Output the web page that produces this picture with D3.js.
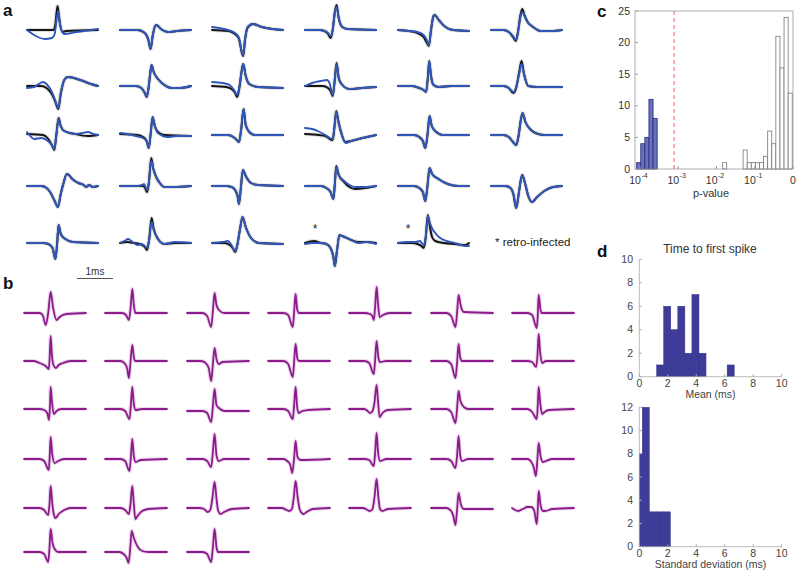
<!DOCTYPE html>
<html><head><meta charset="utf-8">
<script src="https://cdn.jsdelivr.net/npm/d3@7"></script>
<style>body{margin:0;background:#fff} svg{display:block;font-family:"Liberation Sans",Arial,Helvetica,sans-serif}</style>
</head><body><svg id="c" width="800" height="574"></svg>
<script>
// ---------------- DATA ----------------
// Panel a: mean waveforms (time in ms, amplitude in a.u.), black = before, blue = after
const waveA_black = [
 [[0,0],[0.75,0],[0.8,6],[0.86,24],[0.92,8],[1.0,-2],[1.1,-1],[2,0]],
 [[0,0],[0.5,0],[0.7,-3],[0.8,-10],[0.86,-19],[0.92,-6],[0.99,4],[1.03,5],[1.15,1],[1.35,-2],[1.6,-1],[2,0]],
 [[0,0],[0.45,-1],[0.6,-3],[0.75,-8],[0.85,-24],[0.88,-26],[0.93,-10],[1.0,2],[1.15,6],[1.4,3],[1.7,1],[2,0]],
 [[0,0],[0.4,0],[0.55,-1],[0.65,-4],[0.72,-8],[0.78,0],[0.84,18],[0.89,25],[0.95,12],[1.05,3],[1.2,1],[2,0]],
 [[0,0],[0.3,-1],[0.55,-3],[0.72,-7],[0.8,-12],[0.87,-16],[0.93,0],[1.0,14],[1.03,15],[1.15,10],[1.3,4],[1.55,0],[2,-1]],
 [[0,0],[0.35,0],[0.5,-2],[0.62,-7],[0.7,-11],[0.76,-2],[0.83,15],[0.88,21],[0.95,14],[1.05,7],[1.15,4],[1.4,-1],[1.7,-1],[2,0]],
 [[0,0],[0.4,0],[0.55,-2],[0.7,-8],[0.8,-16],[0.88,-23],[0.95,-8],[1.05,6],[1.15,9],[1.5,6],[1.8,2],[2,0]],
 [[0,0],[0.45,0],[0.6,-2],[0.7,-7],[0.75,-11],[0.8,-3],[0.86,15],[0.89,21],[0.95,14],[1.07,7],[1.25,1],[1.45,-2],[1.7,-2],[2,0]],
 [[0,0],[0.4,-1],[0.55,-3],[0.65,-7],[0.71,-11],[0.77,-2],[0.84,16],[0.88,22],[0.95,10],[1.05,2],[1.3,-1],[2,-2]],
 [[0,0],[0.5,0],[0.65,-2],[0.72,-5],[0.78,-10],[0.83,3],[0.89,23],[0.95,8],[1.03,2],[1.25,-3],[1.6,-2],[2,-1]],
 [[0,0],[0.4,0],[0.6,-2],[0.72,-4],[0.79,-6],[0.84,8],[0.88,25],[0.93,10],[1.0,1],[1.15,-1],[1.5,0],[2,0]],
 [[0,0],[0.35,0],[0.5,-2],[0.63,-7],[0.7,-3],[0.8,15],[0.86,25],[0.93,12],[1.05,0],[1.3,-1],[2,-1]],
 [[0,1],[0.45,0],[0.6,-4],[0.7,-10],[0.77,-15],[0.82,-2],[0.89,17],[0.95,9],[1.05,4],[1.35,1],[1.72,-1],[2,0]],
 [[0,1],[0.5,0],[0.65,-2],[0.75,-6],[0.81,-13],[0.86,0],[0.92,18],[0.98,9],[1.07,3],[1.25,0],[2,-1]],
 [[0,0],[0.45,0],[0.6,-2],[0.7,-5],[0.76,-7],[0.82,5],[0.89,26],[0.95,10],[1.05,3],[1.2,0],[2,0]],
 [[0,1],[0.4,0],[0.57,-1],[0.7,-4],[0.78,-5],[0.83,8],[0.88,24],[0.95,12],[1.04,0],[1.13,-7],[1.3,-6],[1.62,-3],[2,0]],
 [[0,0],[0.45,0],[0.6,-2],[0.7,-6],[0.77,-13],[0.83,0],[0.89,19],[0.95,9],[1.08,3],[1.25,0],[2,0]],
 [[0,0],[0.35,0],[0.5,-2],[0.62,-7],[0.71,-10],[0.78,0],[0.84,15],[0.89,22],[0.97,13],[1.1,6],[1.25,2],[1.5,0],[2,0]],
 [[0,0],[0.4,0],[0.55,-2],[0.65,-6],[0.78,-15],[0.87,-21],[0.95,-8],[1.03,3],[1.12,12],[1.18,11],[1.25,8],[1.35,5],[1.45,3],[1.6,1],[1.66,-1],[1.75,1],[1.85,-1],[2,0]],
 [[0,0],[0.5,0],[0.65,0],[0.72,-3],[0.76,-6],[0.81,2],[0.88,28],[0.94,17],[1.02,9],[1.12,3],[1.25,-1],[1.5,-1],[2,0]],
 [[0,0],[0.4,0],[0.55,-1],[0.65,-4],[0.72,-10],[0.76,-18],[0.81,-3],[0.87,16],[0.95,10],[1.1,3],[1.3,1],[2,0]],
 [[0,0],[0.45,0],[0.6,-2],[0.72,-6],[0.8,-13],[0.84,2],[0.88,20],[0.95,11],[1.1,4],[1.25,-1],[1.41,-3],[1.7,-2],[2,0]],
 [[0,0],[0.45,0],[0.6,-2],[0.7,-6],[0.77,-15],[0.83,0],[0.89,18],[0.96,12],[1.14,7],[1.4,2],[1.7,0],[2,0]],
 [[0,0],[0.4,0],[0.55,-2],[0.63,-8],[0.71,-22],[0.78,-8],[0.84,6],[0.88,11],[0.95,4],[1.05,-10],[1.15,-16],[1.3,-11],[1.5,-5],[1.75,-1],[2,0]],
 [[0,0],[0.45,0],[0.6,-1],[0.72,-5],[0.8,-16],[0.85,0],[0.89,18],[0.95,9],[1.08,4],[1.3,1],[2,0]],
 [[0,0],[0.2,1],[0.4,0],[0.55,-1],[0.7,-4],[0.76,-7],[0.82,3],[0.89,25],[0.95,14],[1.07,4],[1.25,-1],[1.55,0],[2,0]],
 [[0,0],[0.35,0],[0.5,-2],[0.6,-6],[0.65,-9],[0.7,-4],[0.78,12],[0.86,26],[0.95,16],[1.1,5],[1.32,0],[2,-1]],
 [[0,0],[0.25,2],[0.45,0],[0.6,-1],[0.72,-5],[0.8,-14],[0.84,-23],[0.9,-8],[0.97,8],[1.05,7],[1.3,3],[1.5,1],[1.73,1],[2,0]],
 [[0,0],[0.4,0],[0.55,-1],[0.66,-3],[0.72,-5],[0.78,5],[0.84,28],[0.9,16],[0.96,6],[1.05,2],[1.3,0],[1.6,-1],[1.9,-2],[2,0]]
];
// null = identical to the black trace
const waveA_blue = [
 [[0,0],[0.2,-5],[0.5,-9],[0.7,-8],[0.78,-4],[0.84,12],[0.88,19],[0.94,4],[1.05,-4],[1.4,-2],[2,1]],
 null,
 [[0,3],[0.2,2],[0.45,0],[0.6,-2],[0.75,-7],[0.85,-23],[0.88,-25],[0.93,-9],[1.0,3],[1.15,6],[1.4,3],[1.7,1],[2,0]],
 [[0,0],[0.4,0],[0.55,-1],[0.65,-3],[0.72,-6],[0.78,0],[0.84,17],[0.89,23],[0.95,12],[1.05,3],[1.2,1],[2,0]],
 [[0,0],[0.3,-1],[0.55,-2],[0.72,-5],[0.8,-9],[0.87,-15],[0.93,0],[1.0,14],[1.03,15],[1.15,10],[1.3,4],[1.55,0],[2,-1]],
 [[0,0],[0.35,0],[0.5,-2],[0.62,-6],[0.7,-10],[0.76,-2],[0.83,13],[0.88,18],[0.95,14],[1.05,7],[1.15,4],[1.4,-1],[1.7,-1],[2,0]],
 [[0,-2],[0.2,-1],[0.45,4],[0.55,2],[0.7,-6],[0.8,-15],[0.88,-22],[0.95,-7],[1.05,6],[1.15,9],[1.5,6],[1.8,2],[2,0]],
 null,
 [[0,4],[0.3,3],[0.5,1],[0.62,-4],[0.71,-9],[0.77,-1],[0.84,16],[0.88,22],[0.95,10],[1.05,2],[1.3,-1],[2,-2]],
 [[0,0],[0.2,3],[0.45,5],[0.62,6],[0.7,2],[0.78,-9],[0.83,3],[0.89,22],[0.95,8],[1.03,2],[1.25,-3],[1.6,-2],[2,-1]],
 null,
 [[0,0],[0.35,0],[0.5,-2],[0.63,-6],[0.7,-2],[0.8,13],[0.86,22],[0.93,12],[1.05,0],[1.3,-1],[2,-1]],
 [[0,3],[0.12,-2],[0.2,-4],[0.4,-3],[0.55,-5],[0.7,-10],[0.77,-14],[0.82,-2],[0.89,16],[0.95,9],[1.05,4],[1.35,1],[1.55,2],[1.72,3],[1.87,1],[2,0]],
 [[0,2],[0.2,1],[0.45,-1],[0.65,-3],[0.75,-6],[0.81,-13],[0.86,0],[0.92,18],[0.98,9],[1.07,2],[1.34,-2],[1.6,-1],[2,-1]],
 null,
 [[0,7],[0.2,6],[0.36,4],[0.57,0],[0.7,-3],[0.78,-4],[0.83,8],[0.88,23],[0.95,12],[1.04,0],[1.15,-8],[1.3,-6],[1.62,-3],[2,0]],
 null,
 null,
 null,
 [[0,0],[0.5,0],[0.62,1],[0.68,2],[0.76,-4],[0.81,3],[0.88,25],[0.94,17],[1.02,9],[1.12,3],[1.25,-1],[1.5,-1],[2,0]],
 null,
 [[0,0],[0.45,0],[0.6,-2],[0.72,-6],[0.8,-13],[0.84,2],[0.88,19],[0.95,11],[1.1,5],[1.25,1],[1.41,-1],[1.7,-1],[2,0]],
 null,
 null,
 null,
 [[0,0],[0.12,2],[0.23,4],[0.35,1],[0.49,-2],[0.6,-1],[0.7,-3],[0.76,-5],[0.82,3],[0.89,21],[0.95,13],[1.07,4],[1.25,-1],[1.55,1],[2,0]],
 [[0,0],[0.3,1],[0.45,2],[0.55,-2],[0.65,-8],[0.7,-4],[0.78,12],[0.86,26],[0.95,16],[1.1,5],[1.32,0],[2,-1]],
 [[0,-1],[0.25,0],[0.45,0],[0.6,-1],[0.72,-5],[0.8,-14],[0.84,-23],[0.9,-8],[0.97,8],[1.05,7],[1.3,3],[1.5,0],[1.73,1],[2,-1]],
 [[0,0],[0.3,1],[0.5,1],[0.62,2],[0.72,-2],[0.78,6],[0.84,27],[0.9,20],[0.97,14],[1.05,10],[1.15,6],[1.3,3],[1.6,0],[1.9,-3],[2,-3]]
];
const retroInfected = [27, 28]; // indices of retro-infected units

// Panel b: purple waveforms
const waveB = [
 [[0,0],[0.5,0],[0.6,-2],[0.7,-12],[0.78,0],[0.86,21],[0.94,5],[1.05,-7],[1.15,-4],[1.37,-1],[2,0]],
 [[0,0],[0.55,0],[0.68,-2],[0.77,-7],[0.82,3],[0.88,24],[0.93,8],[0.98,0],[1.2,0],[2,0]],
 [[0,0],[0.5,0],[0.65,-3],[0.78,-14],[0.83,0],[0.89,20],[0.95,8],[1.03,3],[1.2,0],[2,0]],
 [[0,0],[0.5,0],[0.65,-2],[0.8,-14],[0.84,0],[0.89,19],[0.94,4],[1.0,0],[2,0]],
 [[0,0],[0.5,0],[0.68,-1],[0.75,-3],[0.8,-7],[0.84,5],[0.89,26],[0.94,8],[0.99,-4],[1.1,-2],[1.3,0],[2,0]],
 [[0,0],[0.5,0],[0.65,-3],[0.79,-14],[0.84,0],[0.89,18],[0.96,7],[1.06,1],[2,0]],
 [[0,0],[0.5,0],[0.65,-2],[0.8,-15],[0.83,-3],[0.86,18],[0.92,3],[0.96,0],[2,0]],
 [[0,0],[0.3,0],[0.5,-2],[0.7,-5],[0.8,-8],[0.83,5],[0.86,25],[0.9,6],[0.95,-4],[1.03,-7],[1.12,-4],[1.26,-2],[1.5,0],[2,0]],
 [[0,0],[0.5,0],[0.65,-3],[0.72,-8],[0.77,-17],[0.82,-2],[0.88,16],[0.93,4],[0.98,0],[2,0]],
 [[0,0],[0.45,0],[0.6,-2],[0.7,-7],[0.78,-20],[0.83,-5],[0.89,13],[0.95,2],[1.03,-3],[1.15,-1],[2,0]],
 [[0,0],[0.5,0],[0.65,-3],[0.8,-16],[0.84,-2],[0.89,17],[0.95,2],[1.0,0],[2,0]],
 [[0,0],[0.5,0],[0.65,-2],[0.8,-13],[0.84,0],[0.89,20],[0.95,3],[1.0,-1],[1.2,0],[2,0]],
 [[0,0],[0.5,0],[0.65,-3],[0.79,-17],[0.84,-2],[0.89,17],[0.94,4],[1.0,0],[2,0]],
 [[0,0],[0.5,0],[0.65,-1],[0.78,-6],[0.82,5],[0.86,27],[0.91,8],[0.97,-2],[1.1,0],[2,0]],
 [[0,0],[0.5,0],[0.65,-1],[0.75,-4],[0.81,-11],[0.84,5],[0.86,22],[0.9,8],[0.96,-5],[1.05,-2],[1.2,0],[2,0]],
 [[0,0],[0.5,0],[0.65,-2],[0.79,-10],[0.83,2],[0.88,22],[0.93,5],[0.99,-1],[1.2,0],[2,0]],
 [[0,-2],[0.5,-2],[0.65,-4],[0.78,-13],[0.83,1],[0.89,20],[0.95,4],[1.03,1],[1.2,-2],[2,-2]],
 [[0,0],[0.5,0],[0.65,-2],[0.8,-10],[0.84,3],[0.89,22],[0.94,2],[0.99,-4],[1.1,-2],[1.3,-1],[2,0]],
 [[0,0],[0.5,0],[0.6,-2],[0.68,-4],[0.76,-2],[0.82,6],[0.89,24],[0.94,6],[0.99,-8],[1.08,-4],[1.25,-1],[2,0]],
 [[0,0],[0.5,0],[0.65,-3],[0.79,-14],[0.84,0],[0.89,18],[0.95,8],[1.06,2],[1.2,0],[2,0]],
 [[0,0],[0.5,0],[0.65,-3],[0.8,-10],[0.83,3],[0.86,22],[0.91,6],[0.97,-5],[1.05,-3],[1.2,-1],[2,0]],
 [[0,0],[0.5,0],[0.65,-2],[0.8,-11],[0.83,3],[0.86,22],[0.91,5],[0.99,-4],[1.1,-2],[1.3,0],[2,0]],
 [[0,0],[0.5,0],[0.65,-2],[0.79,-12],[0.83,0],[0.88,20],[0.93,3],[0.99,-3],[1.15,-1],[2,0]],
 [[0,0],[0.5,0],[0.65,-2],[0.78,-8],[0.83,5],[0.89,25],[0.95,4],[1.02,-2],[1.2,0],[2,0]],
 [[0,0],[0.5,0],[0.62,-2],[0.72,-6],[0.78,-14],[0.84,0],[0.89,18],[0.95,2],[1.05,-1],[2,0]],
 [[0,0],[0.5,0],[0.65,-1],[0.8,-7],[0.84,5],[0.89,26],[0.94,6],[1.0,-2],[1.2,0],[2,0]],
 [[0,0],[0.5,0],[0.65,-2],[0.79,-9],[0.84,3],[0.89,23],[0.94,4],[1.0,-2],[1.2,0],[2,0]],
 [[0,0],[0.5,0],[0.6,-2],[0.7,-8],[0.77,-17],[0.82,0],[0.86,16],[0.92,3],[1.0,-3],[1.1,-2],[1.3,0],[2,0]],
 [[0,0],[0.5,0],[0.65,-2],[0.78,-7],[0.82,3],[0.86,22],[0.91,5],[0.96,-6],[1.02,-10],[1.12,-6],[1.3,-2],[1.5,0],[2,0]],
 [[0,0],[0.5,0],[0.65,-2],[0.77,-6],[0.82,3],[0.88,22],[0.93,4],[0.98,-11],[1.05,-8],[1.2,-3],[1.4,-1],[2,0]],
 [[0,0],[0.4,0],[0.55,-1],[0.67,-4],[0.75,-2],[0.82,10],[0.89,26],[0.95,10],[1.0,-2],[1.08,-6],[1.2,-4],[1.45,-1],[2,0]],
 [[0,0],[0.45,0],[0.6,-2],[0.69,-3],[0.77,-1],[0.83,10],[0.89,27],[0.96,10],[1.03,-2],[1.14,-6],[1.25,-4],[1.45,-1],[2,0]],
 [[0,0],[0.45,0],[0.6,-2],[0.67,-3],[0.76,-1],[0.82,10],[0.89,29],[0.95,10],[1.0,-1],[1.08,-3],[1.25,-1],[2,0]],
 [[0,0],[0.5,0],[0.65,-3],[0.72,-8],[0.79,-17],[0.84,-2],[0.89,15],[0.96,4],[1.06,-1],[1.2,-1],[2,-1]],
 [[0,0],[0.1,-2],[0.2,-3],[0.35,-1],[0.5,1],[0.62,1],[0.72,-3],[0.8,-16],[0.83,-2],[0.86,17],[0.92,3],[1.0,-3],[1.07,-3],[1.3,-1],[2,0]],
 [[0,0],[0.5,0],[0.65,-2],[0.78,-10],[0.82,3],[0.86,23],[0.92,9],[0.99,3],[1.1,0],[2,0]],
 [[0,0],[0.45,0],[0.6,-2],[0.7,-6],[0.76,-11],[0.81,2],[0.86,21],[0.93,14],[1.06,5],[1.2,1],[1.4,0],[2,0]],
 [[0,0],[0.5,0],[0.65,-2],[0.78,-10],[0.83,3],[0.89,23],[0.95,5],[1.0,0],[2,0]]
];

// Panel c: p-value histogram, bins in log10(p)
const pBlueEdges  = [-4.086,-3.979,-3.872,-3.765,-3.658,-3.551];
const pBlueCounts = [1,4,5,11,8];
const pWhiteEdges  = [-1.839,-1.732];
const pWhiteCounts = [1];
const pWhiteEdges2  = [-1.304,-1.197,-1.090,-0.983,-0.876,-0.769,-0.662,-0.555,-0.448,-0.341,-0.234,-0.127,-0.020];
const pWhiteCounts2 = [3,1,1,1,1,2,6,4,21,16,24,12];
const pThresholdLog = -3.107;
const pTickExp = [-4,-3,-2,-1,0];
const pYTicks = [0,5,10,15,20,25];

// Panel d: time to first spike
const meanEdges  = [1.22,1.715,2.21,2.705,3.2,3.695,4.19,4.685,5.18,5.675,6.17,6.665];
const meanCounts = [1,6,4,6,2,7,2,0,0,0,1];
const sdEdges  = [-0.28,0.21,0.70,1.19,1.69,2.18];
const sdCounts = [8,12,3,3,3];
const dXTicks = [0,2,4,6,8,10];
const meanYTicks = [0,2,4,6,8,10];
const sdYTicks = [0,2,4,6,8,10,12];

// ---------------- DRAW ----------------
const svg = d3.select('#c');

function drawWave(pts, left, width, base, color, sw, halo) {
  const x = d3.scaleLinear().domain([0,2]).range([left, left+width]);
  const y = d3.scaleLinear().domain([-30,30]).range([base+30, base-30]);
  const ln = d3.line().x(d=>x(d[0])).y(d=>y(d[1])).curve(d3.curveMonotoneX);
  if (halo) svg.append('path').attr('d', ln(pts)).attr('fill','none')
     .attr('stroke', halo).attr('stroke-width', sw+2.2).attr('stroke-linejoin','round').attr('opacity',0.45);
  svg.append('path').attr('d', ln(pts)).attr('fill','none')
     .attr('stroke', color).attr('stroke-width', sw).attr('stroke-linejoin','round').attr('stroke-linecap','round');
}

// Panel a layout
const aCols = [27,120,212,305,398,491], aRows = [30,86,135,186,243], aW = 71;
waveA_black.forEach((pts,i)=>{
  const r = Math.floor(i/6), c = i%6;
  drawWave(pts, aCols[c], aW, aRows[r], '#151515', 2, '#bbbbbb');
  drawWave(waveA_blue[i] || pts, aCols[c], aW, aRows[r], '#2f56b8', 1.9, null);
});
retroInfected.forEach(i=>{
  const r = Math.floor(i/6), c = i%6;
  svg.append('text').attr('x', aCols[c]+10).attr('y', aRows[r]-10).attr('text-anchor','middle')
    .attr('font-size',12).attr('fill','#222').text('*');
});
svg.append('text').attr('x',495).attr('y',246).attr('font-size',11.5).attr('fill','#222').text('* retro-infected');
// scale bar 1 ms
const sb = d3.scaleLinear().domain([0,1]).range([77,113]);
svg.append('line').attr('x1',sb(0)).attr('x2',sb(1)).attr('y1',278.5).attr('y2',278.5).attr('stroke','#555').attr('stroke-width',1);
svg.append('text').attr('x',(sb(0)+sb(1))/2).attr('y',275).attr('text-anchor','middle').attr('font-size',10).attr('fill','#333').text('1ms');

// Panel b layout
const bCols = [24,105,187,268,349,431,512], bRows = [313,361,409,459,508,552], bW = 62;
waveB.forEach((pts,i)=>{
  const r = Math.floor(i/7), c = i%7;
  drawWave(pts, bCols[c], bW, bRows[r], '#8c1c8c', 1.8, '#d3a6d3');
});

// Panel letters
[['a',3,16],['b',3,289],['c',597,17],['d',597,257]].forEach(([t,x,y])=>{
  svg.append('text').attr('x',x).attr('y',y).attr('font-size',17).attr('font-weight','bold').attr('fill','#111').text(t);
});

// Panel c
const cx = d3.scaleLinear().domain([-4.13,0]).range([635,793]);
const cy = d3.scaleLinear().domain([0,25]).range([169,11]);
function histBars(edges, counts, fill, stroke, sw, xs, ys) {
  counts.forEach((n,i)=>{
    if (!n) return;
    const x0 = Math.max(xs(edges[i]), xs.range()[0]);
    svg.append('rect').attr('x',x0).attr('y',ys(n)).attr('width',xs(edges[i+1])-x0)
      .attr('height',ys(0)-ys(n)).attr('fill',fill).attr('stroke',stroke).attr('stroke-width',sw);
  });
}
histBars(pBlueEdges,pBlueCounts,'#6a72bd','#2b3283',0.9,cx,cy);
histBars(pWhiteEdges,pWhiteCounts,'#fff','#777',0.8,cx,cy);
histBars(pWhiteEdges2,pWhiteCounts2,'#fff','#777',0.8,cx,cy);
svg.append('line').attr('x1',cx(pThresholdLog)).attr('x2',cx(pThresholdLog)).attr('y1',cy(25)).attr('y2',cy(0))
  .attr('stroke','#f08a8a').attr('stroke-width',1.3).attr('stroke-dasharray','4,3');
svg.append('rect').attr('x',635).attr('y',11).attr('width',158).attr('height',158).attr('fill','none').attr('stroke','#9a9a9a').attr('stroke-width',0.8);
pYTicks.forEach(v=>{
  svg.append('line').attr('x1',635).attr('x2',638).attr('y1',cy(v)).attr('y2',cy(v)).attr('stroke','#9a9a9a');
  svg.append('text').attr('x',630).attr('y',cy(v)+3.5).attr('text-anchor','end').attr('font-size',10.5).attr('fill','#333').text(v);
});
pTickExp.forEach(e=>{
  const x = cx(e);
  svg.append('line').attr('x1',x).attr('x2',x).attr('y1',169).attr('y2',166).attr('stroke','#9a9a9a');
  if (e===0) {
    svg.append('text').attr('x',x).attr('y',183.5).attr('text-anchor','middle').attr('font-size',10.5).attr('fill','#333').text('0');
  } else {
    svg.append('text').attr('x',x+1).attr('y',183.5).attr('text-anchor','end').attr('font-size',10.5).attr('fill','#333').text('10');
    svg.append('text').attr('x',x+1.5).attr('y',178).attr('text-anchor','start').attr('font-size',7).attr('fill','#333').text(String(e));
  }
});
svg.append('text').attr('x',711).attr('y',196.5).attr('text-anchor','middle').attr('font-size',11).attr('fill','#333').text('p-value');

// Panel d
const dx = d3.scaleLinear().domain([0,10]).range([639.3,781.7]);
function dAxes(ys, yTicks, xLabel, labelY) {
  const y0 = ys(0), yTop = ys.range()[1];
  svg.append('line').attr('x1',dx(0)).attr('x2',dx(0)).attr('y1',y0).attr('y2',yTop).attr('stroke','#a8a8a8').attr('stroke-width',0.8);
  svg.append('line').attr('x1',dx(0)).attr('x2',dx(10)).attr('y1',y0).attr('y2',y0).attr('stroke','#a8a8a8').attr('stroke-width',0.8);
  yTicks.forEach(v=>{
    svg.append('line').attr('x1',dx(0)).attr('x2',dx(0)+2.5).attr('y1',ys(v)).attr('y2',ys(v)).attr('stroke','#a8a8a8');
    svg.append('text').attr('x',633).attr('y',ys(v)+3.5).attr('text-anchor','end').attr('font-size',10.5).attr('fill','#444').text(v);
  });
  dXTicks.forEach(v=>{
    svg.append('line').attr('x1',dx(v)).attr('x2',dx(v)).attr('y1',y0).attr('y2',y0-2.5).attr('stroke','#a8a8a8');
    svg.append('text').attr('x',dx(v)).attr('y',y0+10.5).attr('text-anchor','middle').attr('font-size',10.5).attr('fill','#444').text(v);
  });
  svg.append('text').attr('x',(dx(0)+dx(10))/2).attr('y',labelY).attr('text-anchor','middle').attr('font-size',10.5).attr('fill','#444').text(xLabel);
}
const myS = d3.scaleLinear().domain([0,10]).range([376.7,259.3]);
const sdS = d3.scaleLinear().domain([0,12]).range([546.7,407.3]);
histBars(meanEdges,meanCounts,'#3e3c98','#33318a',0.5,dx,myS);
histBars(sdEdges,sdCounts,'#3e3c98','#33318a',0.5,dx,sdS);
dAxes(myS, meanYTicks, 'Mean (ms)', 398);
dAxes(sdS, sdYTicks, 'Standard deviation (ms)', 568);
svg.append('text').attr('x',710).attr('y',253).attr('text-anchor','middle').attr('font-size',12).attr('fill','#333').text('Time to first spike');
</script></body></html>
